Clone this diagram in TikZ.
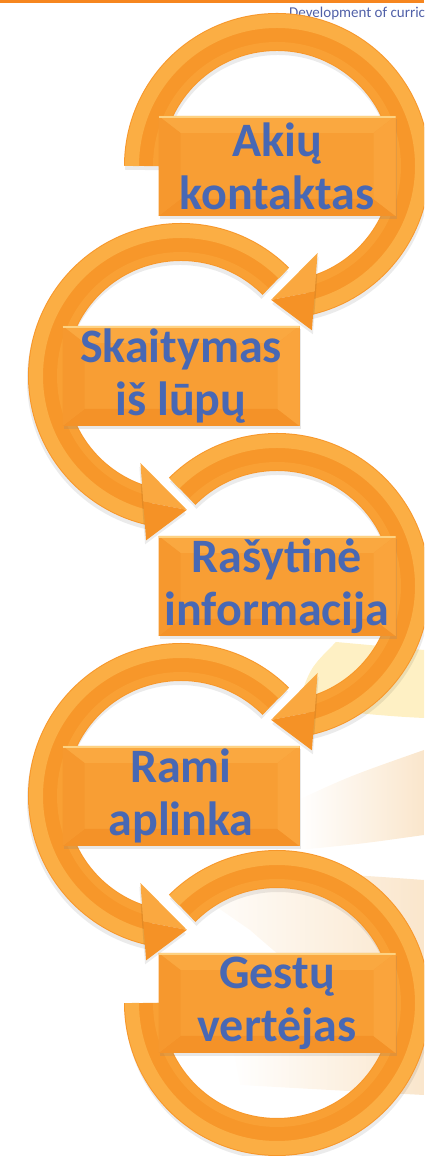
\documentclass[tikz,border=0pt]{standalone}
\usepackage{fontspec}
\setmainfont{Carlito}
\usetikzlibrary{shadows}
\definecolor{txtblue}{RGB}{72,104,180}
\definecolor{hdrblue}{RGB}{80,96,168}
\definecolor{topbarc}{RGB}{246,134,31}
\definecolor{ringbasec}{RGB}{247,151,42}
\definecolor{ringrimc}{RGB}{251,174,68}
\definecolor{ringinc}{RGB}{249,160,52}
\definecolor{headAc}{RGB}{250,168,64}
\definecolor{headBc}{RGB}{245,146,38}
\definecolor{boxmidc}{RGB}{248,158,52}
\definecolor{boxtopc}{RGB}{250,168,64}
\definecolor{boxleftc}{RGB}{246,152,46}
\definecolor{boxrightc}{RGB}{250,164,60}
\definecolor{boxbotc}{RGB}{244,146,40}
\definecolor{boxhic}{RGB}{253,210,130}
\definecolor{bgyellow}{RGB}{254,240,196}
\definecolor{bgbeige}{RGB}{250,230,204}
\begin{document}
\begin{tikzpicture}[x=1pt,y=1pt,
  bandshadow/.style={line width=38pt, black, opacity=0.08},
  bandbase/.style={line width=38pt, ringbasec},
  bandrim/.style={line width=14pt, ringrimc},
  bandinner/.style={line width=8pt, ringinc},
  headA/.style={fill=headAc},
  headB/.style={fill=headBc},
  headshadow/.style={fill=black, opacity=0.08},
  hdrtext/.style={font=\fontsize{15}{17}\selectfont, text=hdrblue, inner sep=0pt},
  stepbox/.style={minimum width=237pt, minimum height=100pt, inner sep=0pt,
    fill=boxmidc, text=txtblue, align=center,
    font=\fontsize{48}{53}\selectfont\bfseries,
    drop shadow={opacity=0.18, shadow xshift=1pt, shadow yshift=-3pt},
    path picture={
      \def\bb{path picture bounding box}
      \fill[boxtopc] (\bb.north west) -- (\bb.north east) -- ([shift={(-22pt,-17pt)}]\bb.north east) -- ([shift={(22pt,-17pt)}]\bb.north west) -- cycle;
      \fill[boxbotc] (\bb.south west) -- (\bb.south east) -- ([shift={(-22pt,17pt)}]\bb.south east) -- ([shift={(22pt,17pt)}]\bb.south west) -- cycle;
      \fill[boxleftc] (\bb.north west) -- ([shift={(22pt,-17pt)}]\bb.north west) -- ([shift={(22pt,17pt)}]\bb.south west) -- (\bb.south west) -- cycle;
      \fill[boxrightc] (\bb.north east) -- ([shift={(-22pt,-17pt)}]\bb.north east) -- ([shift={(-22pt,17pt)}]\bb.south east) -- (\bb.south east) -- cycle;
      \draw[boxhic, line width=2pt] ([yshift=-1pt]\bb.north west) -- ([yshift=-1pt]\bb.north east);
    }},
  pics/ringband/.style 2 args={code={
    \draw[bandshadow] (#1:134) ++(1,-4) arc[start angle=#1, end angle=#2, radius=134];
    \draw[bandbase] (#1:134) arc[start angle=#1, end angle=#2, radius=134];
    \draw[bandrim] (#1:145) arc[start angle=#1, end angle=#2, radius=145];
    \draw[bandinner] (#1:120) arc[start angle=#1, end angle=#2, radius=120];
  }},
  pics/ringhead/.style={code={
    \fill[headshadow] ([shift={(1,-4)}]-65:96) -- ([shift={(1,-4)}]-92.5:134) -- ([shift={(1,-4)}]-78:168) -- cycle;
    \fill[headA] (-65:96) -- (-92.5:134) -- (37.7,-125.6) -- cycle;
    \fill[headB] (37.7,-125.6) -- (-92.5:134) -- (-78:168) -- cycle;
  }},
]
\useasboundingbox (0,0) rectangle (424,1156);
\clip (0,0) rectangle (424,1156);

% background swooshes
\fill[bgyellow] (298,452) .. controls (310,488) .. (336,514) -- (424,506) -- (424,438) .. controls (380,440) and (330,445) .. (298,452) -- cycle;
\shade[left color=white, right color=bgbeige] (298,356) .. controls (350,380) .. (424,406) -- (424,321) .. controls (360,312) .. (298,306) -- cycle;
\shade[left color=white, right color=bgbeige] (185,271) .. controls (300,285) .. (424,276) -- (424,81) .. controls (380,120) and (330,156) .. (250,226) -- cycle;
\shade[left color=white, right color=bgbeige] (230,121) .. controls (330,125) .. (424,116) -- (424,61) .. controls (330,66) .. (240,71) -- cycle;

% header
\node[hdrtext, anchor=base west] (hdr) at (289,1138.5) {Development of curric};
\fill[topbarc] (0,1153) rectangle (424,1156);

\coordinate (c1) at (277,990);
\coordinate (c2) at (181,780);
\coordinate (c3) at (277,570);
\coordinate (c4) at (181,360);
\coordinate (c5) at (277,153);

\pic at (c1) {ringband={180}{-77}};
\pic at (c1) {ringhead};
\node[stepbox] (b1) at (c1) {Akių\\kontaktas};

\pic[xscale=-1] at (c2) {ringband={135}{-77}};
\pic[xscale=-1] at (c2) {ringhead};
\node[stepbox] (b2) at (c2) {Skaitymas\\iš lūpų};

\pic at (c3) {ringband={135}{-77}};
\pic at (c3) {ringhead};
\node[stepbox] (b3) at (c3) {Rašytinė\\informacija};

\pic[xscale=-1] at (c4) {ringband={135}{-77}};
\pic[xscale=-1] at (c4) {ringhead};
\node[stepbox] (b4) at (c4) {Rami\\aplinka};

\pic at (c5) {ringband={135}{-180}};
\node[stepbox] (b5) at (c5) {Gestų\\vertėjas};
\end{tikzpicture}
\end{document}
